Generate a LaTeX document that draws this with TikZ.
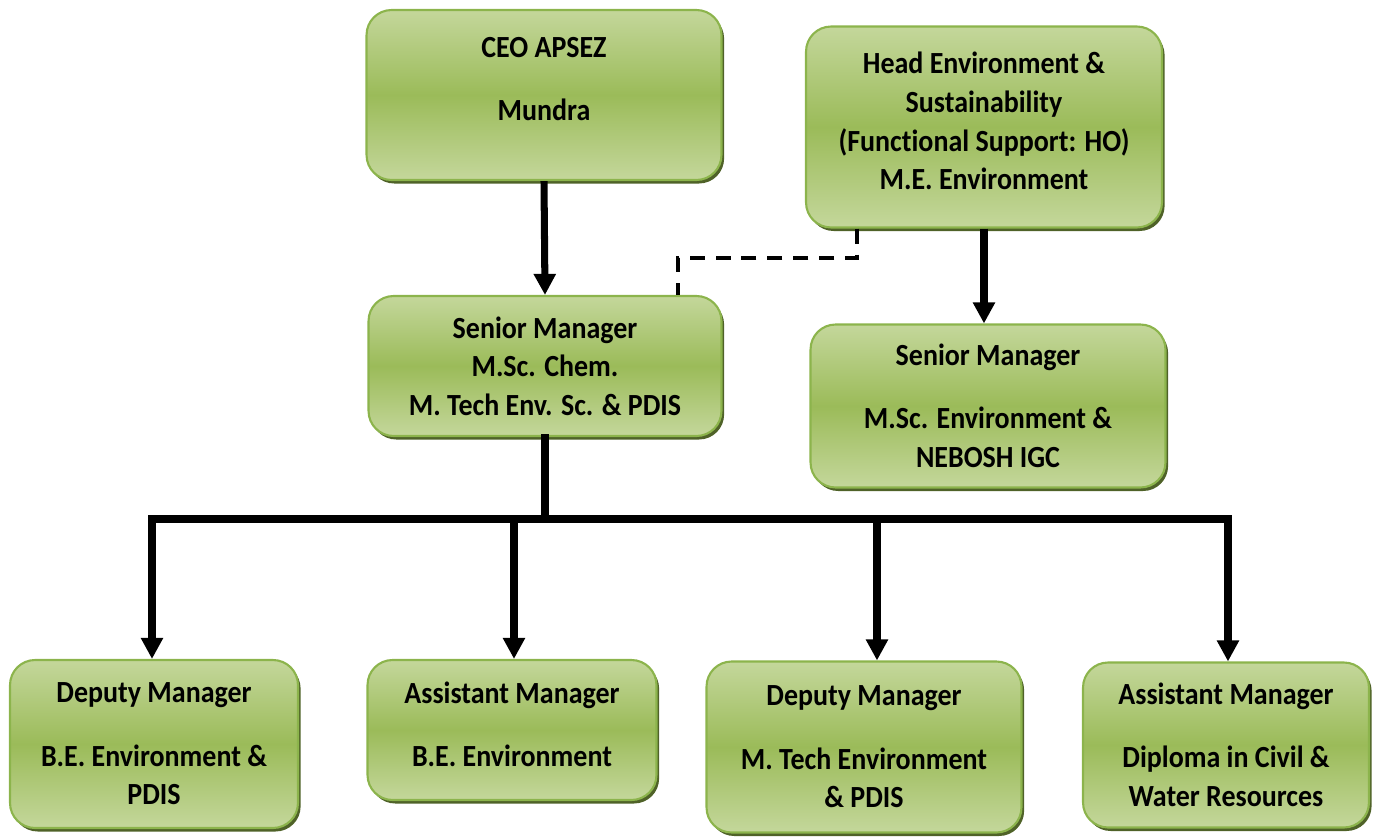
\documentclass[tikz,border=0pt]{standalone}
\usepackage{fontspec}
\setmainfont{Carlito}[FakeStretch=0.91, Ligatures=NoCommon]
\usetikzlibrary{arrows.meta,shadows,positioning}
\definecolor{boxlight}{RGB}{196,215,155}
\definecolor{boxmid}{RGB}{155,187,89}
\definecolor{boxline}{RGB}{140,180,76}
\definecolor{boxshadow}{RGB}{79,98,40}

\tikzset{
    orgbox/.style={rounded corners=0.5cm, draw=boxline, line width=1.2pt,
        top color=boxlight, bottom color=boxlight, middle color=boxmid,
        drop shadow={shadow xshift=1.5pt, shadow yshift=-2pt, fill=boxshadow, opacity=1},
        align=center, font=\fontsize{17.5}{22}\selectfont\bfseries},
    boxtext/.style={align=center, font=\fontsize{17.5}{22}\selectfont\bfseries},
    link/.style={line width=4pt, -{Triangle[length=12pt,width=12pt]}},
    busline/.style={line width=4pt, line cap=rect},
    dashline/.style={line width=2pt, dash pattern=on 0.3cm off 0.22cm},
}

\begin{document}
\begin{tikzpicture}[x=0.02cm, y=-0.02cm]
    \useasboundingbox (0,0) rectangle (1374,836);

    % Top level
    \node[orgbox, minimum width=7.1cm, minimum height=3.4cm] (ceo) at (544,95) {};
    \node[boxtext] (ceotext) at (544,79) {CEO APSEZ\\[14pt]Mundra};
    \node[orgbox, minimum width=7.12cm, minimum height=4.02cm] (head) at (984,127) {};
    \node[boxtext] (headtext) at (984,121)
        {Head Environment \&\\Sustainability\\(Funct\kern0pt ional Support: HO)\\M.E. Environment};

    % Second level
    \node[orgbox, minimum width=7.06cm, minimum height=2.8cm] (sm1) at (545,366)
        {Senior Manager\\M.Sc. Chem.\\M. Tech Env. Sc. \& PDIS};
    \node[orgbox, minimum width=7.1cm, minimum height=3.26cm] (sm2) at (988,406)
        {Senior Manager\\[14pt]M.Sc. Environment \&\\NEBOSH IGC};

    % Bottom level
    \node[orgbox, minimum width=5.76cm, minimum height=3.36cm] (dm1) at (154,744)
        {Deputy Manager\\[14pt]B.E. Environment \&\\PDIS};
    \node[orgbox, minimum width=5.78cm, minimum height=2.8cm] (am1) at (512,730) {};
    \node[boxtext] (am1text) at (512,724) {Assistant Manager\\[14pt]B.E. Environment};
    \node[orgbox, minimum width=6.3cm, minimum height=3.42cm] (dm2) at (864,747)
        {Deputy Manager\\[14pt]M. Tech Environment\\\& PDIS};
    \node[orgbox, minimum width=5.72cm, minimum height=3.3cm] (am2) at (1226,745)
        {Assistant Manager\\[14pt]Diploma in Civil \&\\Water Resources};

    % Connections
    \draw[link] (ceo.south) -- (sm1.north);
    \draw[link] (head.south) -- (head.south |- sm2.north);

    \coordinate (dashbend1) at (857,258);
    \coordinate (dashbend2) at (678,258);
    \draw[dashline] (dashbend1 |- head.south) -- (dashbend1) -- (dashbend2) -- (dashbend2 |- sm1.north);

    \coordinate (bus0) at (545,519);
    \coordinate (bus1) at (152,519);
    \coordinate (bus2) at (514,519);
    \coordinate (bus3) at (877,519);
    \coordinate (bus4) at (1228,519);
    \draw[busline] (sm1.south) -- (bus0);
    \draw[busline] (bus1) -- (bus4);
    \draw[link] (bus1) -- (bus1 |- dm1.north);
    \draw[link] (bus2) -- (bus2 |- am1.north);
    \draw[link] (bus3) -- (bus3 |- dm2.north);
    \draw[link] (bus4) -- (bus4 |- am2.north);
\end{tikzpicture}
\end{document}
